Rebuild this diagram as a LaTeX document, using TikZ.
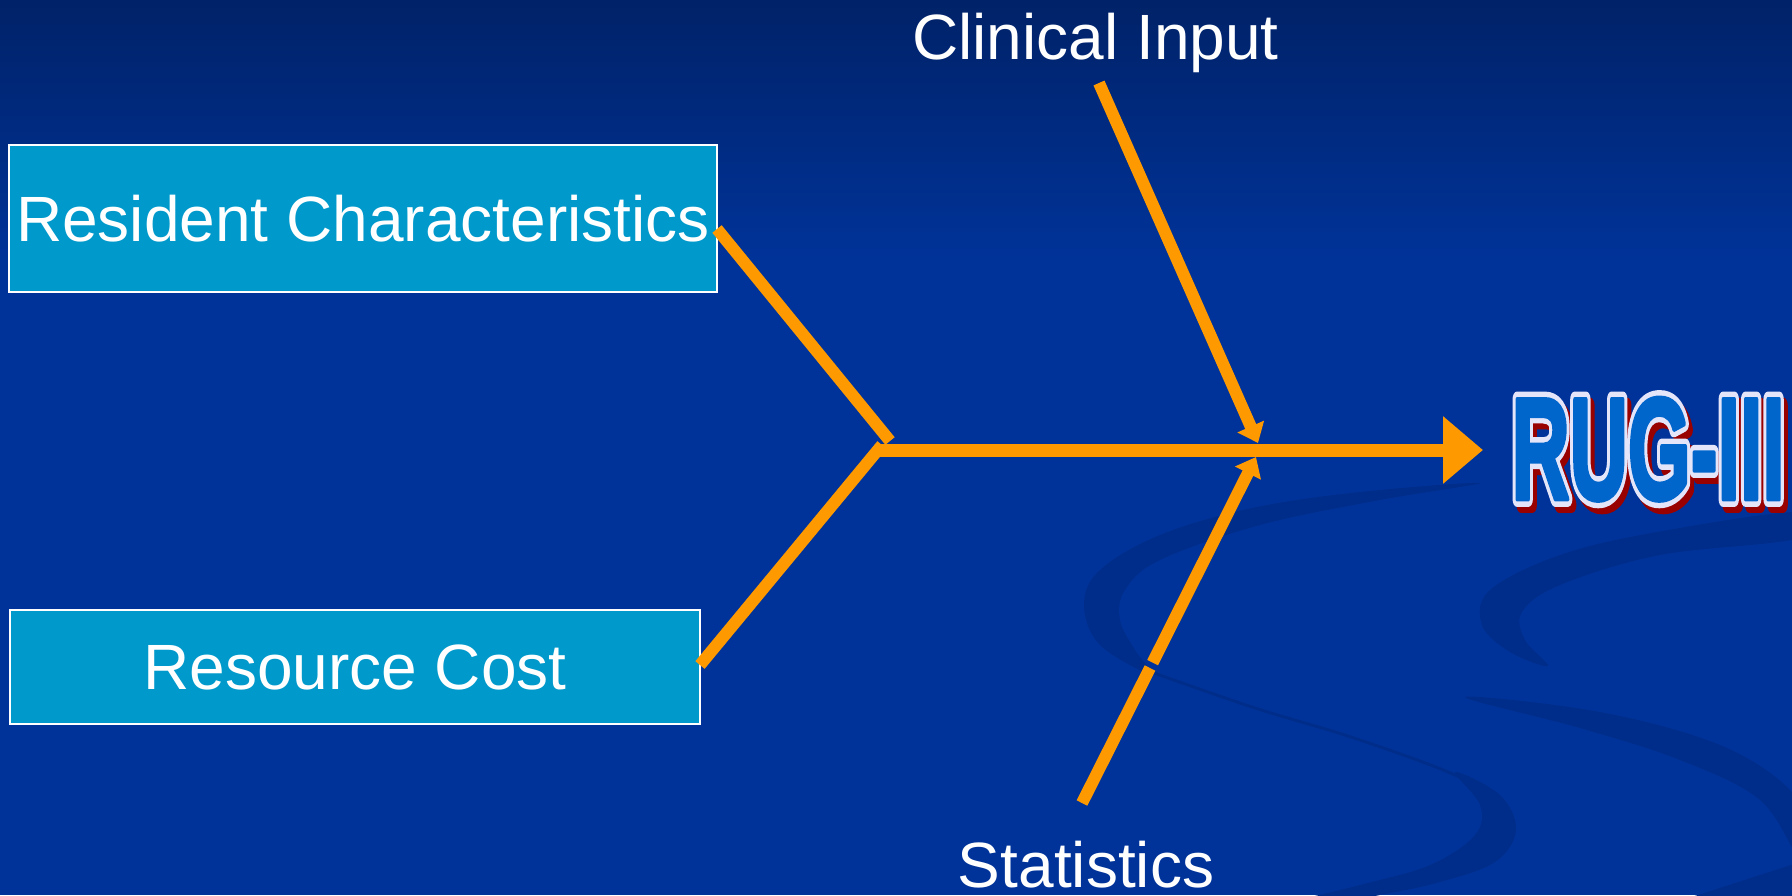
\documentclass[tikz,border=0pt]{standalone}
\usepackage{fontspec}
\setmainfont{Liberation Sans}
\usetikzlibrary{arrows.meta,calc}
\definecolor{bgtop}{RGB}{0,34,104}
\definecolor{bgmid}{RGB}{0,51,153}
\definecolor{swoosh}{RGB}{0,45,138}
\definecolor{boxfill}{RGB}{0,153,204}
\definecolor{flow}{RGB}{255,153,0}
\definecolor{rugblue}{RGB}{0,102,204}
\definecolor{rugred}{RGB}{153,0,0}
\tikzset{
  lbl/.style={font=\fontsize{64}{77}\selectfont, text=white, inner sep=0pt, outer sep=0pt},
  factorbox/.style={draw=white, line width=2.5pt, fill=boxfill, inner sep=0pt, outer sep=0pt,
    font=\fontsize{64}{77}\selectfont, text=white},
  feed/.style={draw=flow, line width=12pt},
  mainflow/.style={draw=flow, line width=13pt, -{Triangle[length=40pt,width=65pt]}},
  inflow/.style={draw=flow, line width=12pt, -{Triangle[length=18pt,width=28pt]}},
  rug/.style={anchor=base west, inner sep=0pt, outer sep=0pt}
}
% #1 fill colour, #2 stroke rgb, #3 stroke width
\newcommand\rugword[3]{\scalebox{0.672}[1.206]{\fontsize{120}{120}\selectfont\bfseries
  \color{#1}\special{pdf:literal direct 2 Tr #3 w #2 RG 1 j}RUG-III\special{pdf:literal direct 0 Tr}}}
\begin{document}
\begin{tikzpicture}[x=1pt,y=-1pt]
\useasboundingbox (0,0) rectangle (1792,895);
\begin{scope}
\clip (0,0) rectangle (1792,895);
% background
\shade[top color=bgtop, bottom color=bgmid] (0,0) rectangle (1792,262);
\fill[bgmid] (0,260) rectangle (1792,895);
% decorative swooshes
\fill[swoosh] plot[smooth cycle, tension=0.6] coordinates {(1480,483) (1360,492) (1252,508) (1160,535) (1100,570) (1084,605) (1100,645) (1152,675) (1135,650) (1120,620) (1125,590) (1160,560) (1260,525) (1380,500)};
\draw[swoosh, line width=3pt] plot[smooth, tension=0.6] coordinates {(1140,668) (1252,707) (1354,738) (1455,775) (1490,800)};
\fill[swoosh] plot[smooth cycle, tension=0.6] coordinates {(1455,772) (1500,795) (1516,830) (1495,862) (1440,882) (1380,895) (1300,910) (1260,910) (1360,885) (1430,865) (1475,835) (1480,805)};
\fill[swoosh] plot[smooth cycle, tension=0.6] coordinates {(1800,512) (1657,532) (1560,555) (1490,590) (1482,625) (1510,652) (1548,666) (1525,640) (1522,612) (1560,585) (1660,555) (1800,538)};
\fill[swoosh] plot[smooth cycle, tension=0.6] coordinates {(1465,697) (1600,712) (1720,745) (1790,790) (1800,830) (1800,860) (1760,800) (1680,760) (1580,728)};
\fill[swoosh] (1682,900) .. controls (1720,888) and (1760,875) .. (1800,862) -- (1800,900) -- cycle;
\end{scope}

% nodes
\node[factorbox, minimum width=708pt, minimum height=147pt] (rc) at (363,218.5) {Resident Characteristics};
\node[factorbox, minimum width=690pt, minimum height=114pt] (cost) at (355,667) {Resource Cost};
\node[lbl, anchor=base] (ci) at (1095.5,59) {Clinical Input};
\node[lbl, anchor=base] (st) at (1086,887) {Statistics};
\node[rug] (rugshadow) at (1515.5,505) {\rugword{rugred}{0.6 0 0}{13}};
\node[rug] (rugoutline) at (1511.5,499) {\rugword{white}{0.9 0.9 0.98}{13}};
\node[rug] (rugtitle) at (1511.5,499) {\rugword{rugblue}{0 0.4 0.8}{4}};

% coordinates
\coordinate (J) at (877,450);
\coordinate (Jup) at (890,441);
\coordinate (Jlow) at (882,445);
\coordinate (tip) at (1483,450);
\coordinate (ciStart) at (1099,83);
\coordinate (ciTip) at (1258,443);
\coordinate (stStart) at (1082,803);
\coordinate (stCutA) at (1150,668);
\coordinate (stCutB) at (1152.6,662.6);
\coordinate (stTip) at (1256,457);

% connectors
\draw[feed] ([yshift=-10.5pt]rc.east) -- (Jup);
\draw[feed] ([yshift=2pt]cost.east) -- (Jlow);
\draw[mainflow] (J) -- (tip);
\draw[inflow] (ciStart) -- (ciTip);
\draw[feed] (stStart) -- (stCutA);
\draw[inflow] (stCutB) -- (stTip);
\end{tikzpicture}
\end{document}
